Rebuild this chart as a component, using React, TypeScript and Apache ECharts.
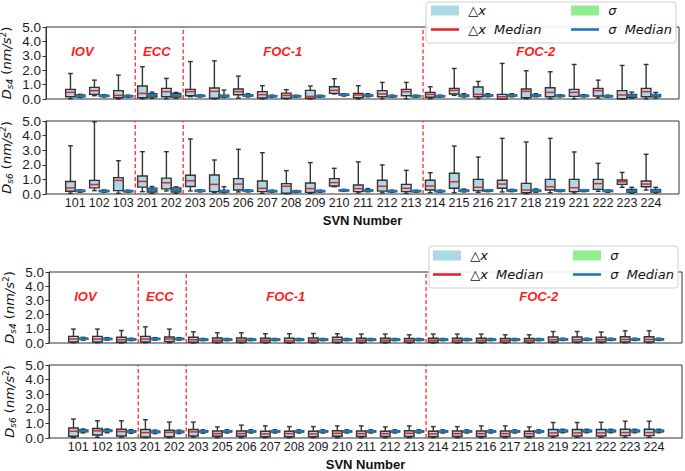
import React, { useEffect, useRef } from 'react';
import * as echarts from 'echarts';

// ---------- data ----------
const categories = ['101','102','103','201','202','203','205','206','207','208','209','210','211','212','213','214','215','216','217','218','219','221','222','223','224'];
const dividerPositions = [2.5, 4.5, 14.5];
const groupNames = ['IOV', 'ECC', 'FOC-1', 'FOC-2'];
const groupLabelX = [0.3, 3.4, 8.65, 19.2];
const groupLabelY = [3.3, 3.3, 3.3, 3.3];

// [low whisker, Q1, median, Q3, high whisker]
const topS4Dx = [
  [0.02,0.16,0.46,0.67,1.77],[0.23,0.32,0.58,0.81,1.31],[0.0,0.09,0.25,0.58,1.66],[0.02,0.09,0.39,0.9,2.24],[0.02,0.16,0.51,0.74,1.43],
  [0.16,0.23,0.51,0.67,2.6],[0.0,0.05,0.53,0.76,2.65],[0.07,0.3,0.51,0.69,1.59],[0.0,0.07,0.3,0.51,0.92],[0.0,0.05,0.25,0.41,0.65],
  [0.0,0.05,0.18,0.6,0.9],[0.35,0.39,0.6,0.85,1.41],[0.0,0.09,0.28,0.39,0.92],[0.02,0.16,0.35,0.58,1.15],[0.02,0.23,0.51,0.67,1.15],
  [0.02,0.12,0.32,0.46,0.85],[0.25,0.35,0.6,0.74,2.12],[0.02,0.16,0.32,0.83,1.22],[0.0,0.0,0.16,0.32,2.47],[0.02,0.09,0.53,0.69,1.96],
  [0.02,0.16,0.46,0.78,1.89],[0.02,0.18,0.46,0.67,2.4],[0.07,0.21,0.58,0.74,1.31],[0.0,0.02,0.28,0.58,2.33],[0.02,0.16,0.51,0.74,2.4],
];
const topS4Sigma = [
  [0.1,0.16,0.2,0.28,0.32],[0.14,0.18,0.22,0.25,0.3],[0.12,0.16,0.2,0.23,0.27],[0.05,0.14,0.28,0.37,0.48],[0.05,0.14,0.25,0.39,0.46],
  [0.14,0.18,0.22,0.25,0.28],[0.1,0.16,0.2,0.26,0.62],[0.14,0.2,0.25,0.3,0.37],[0.12,0.16,0.2,0.23,0.27],[0.12,0.16,0.2,0.23,0.26],
  [0.12,0.16,0.2,0.23,0.26],[0.2,0.26,0.3,0.33,0.37],[0.15,0.2,0.25,0.28,0.37],[0.12,0.16,0.2,0.23,0.27],[0.12,0.16,0.2,0.23,0.27],
  [0.12,0.16,0.2,0.23,0.27],[0.14,0.18,0.22,0.27,0.37],[0.15,0.2,0.25,0.29,0.37],[0.15,0.2,0.25,0.29,0.37],[0.15,0.2,0.25,0.29,0.37],
  [0.14,0.18,0.22,0.25,0.3],[0.14,0.18,0.22,0.25,0.3],[0.12,0.16,0.2,0.23,0.27],[0.05,0.12,0.23,0.32,0.48],[0.07,0.16,0.25,0.32,0.46],
];
const topS6Dx = [
  [0.05,0.19,0.42,0.86,3.3],[0.23,0.42,0.65,0.93,4.95],[0.05,0.23,0.93,1.12,2.28],[0.16,0.47,0.86,1.23,2.9],[0.21,0.35,0.77,1.09,2.9],
  [0.21,0.51,0.91,1.28,3.77],[0.09,0.16,0.66,1.3,2.33],[0.14,0.27,0.68,1.05,3.06],[0.05,0.16,0.39,0.89,2.83],[0.02,0.05,0.53,0.71,1.6],
  [0.05,0.11,0.37,0.75,2.15],[0.5,0.55,0.78,1.05,1.76],[0.07,0.16,0.37,0.62,2.2],[0.07,0.2,0.53,0.94,1.99],[0.05,0.16,0.39,0.66,1.62],
  [0.09,0.27,0.55,0.94,1.46],[0.09,0.39,0.84,1.42,3.29],[0.11,0.23,0.46,1.0,2.53],[0.14,0.39,0.68,0.94,3.81],[0.02,0.09,0.27,0.73,3.56],
  [0.09,0.27,0.5,1.0,3.81],[0.07,0.16,0.43,1.0,2.88],[0.18,0.32,0.71,1.0,2.1],[0.46,0.66,0.84,0.96,1.48],[0.27,0.5,0.68,0.89,2.72],
];
const topS6Sigma = [
  [0.12,0.17,0.22,0.25,0.28],[0.12,0.17,0.2,0.24,0.28],[0.12,0.16,0.2,0.23,0.26],[0.05,0.14,0.28,0.4,0.51],[0.05,0.14,0.28,0.42,0.49],
  [0.14,0.18,0.22,0.25,0.28],[0.08,0.14,0.2,0.25,0.5],[0.14,0.18,0.22,0.25,0.28],[0.12,0.16,0.2,0.23,0.26],[0.1,0.14,0.18,0.21,0.24],
  [0.12,0.16,0.2,0.23,0.26],[0.18,0.22,0.25,0.28,0.32],[0.15,0.2,0.25,0.29,0.37],[0.12,0.16,0.2,0.23,0.26],[0.12,0.16,0.2,0.23,0.26],
  [0.12,0.16,0.2,0.23,0.26],[0.14,0.18,0.22,0.27,0.34],[0.16,0.2,0.25,0.28,0.3],[0.16,0.2,0.25,0.28,0.32],[0.12,0.18,0.22,0.27,0.35],
  [0.16,0.2,0.25,0.28,0.3],[0.16,0.2,0.25,0.28,0.3],[0.12,0.17,0.22,0.25,0.28],[0.05,0.11,0.2,0.32,0.46],[0.07,0.14,0.23,0.32,0.46],
];
const botS4Dx = [
  [0.02,0.07,0.28,0.47,0.98],[0.02,0.07,0.28,0.47,0.98],[0.0,0.05,0.23,0.4,0.88],[0.02,0.07,0.28,0.47,1.14],[0.02,0.1,0.28,0.42,0.98],
  [0.0,0.05,0.23,0.4,0.79],[0.0,0.05,0.19,0.35,0.72],[0.0,0.05,0.19,0.35,0.72],[0.0,0.05,0.19,0.33,0.65],[0.0,0.03,0.16,0.33,0.65],
  [0.0,0.05,0.19,0.35,0.67],[0.0,0.05,0.23,0.4,0.65],[0.0,0.05,0.19,0.33,0.63],[0.0,0.05,0.19,0.33,0.63],[0.0,0.05,0.18,0.32,0.58],
  [0.0,0.05,0.19,0.33,0.63],[0.0,0.05,0.19,0.33,0.63],[0.0,0.05,0.19,0.33,0.63],[0.0,0.05,0.18,0.32,0.58],[0.0,0.05,0.18,0.32,0.58],
  [0.02,0.07,0.23,0.42,0.81],[0.02,0.07,0.23,0.42,0.81],[0.02,0.07,0.23,0.4,0.77],[0.02,0.07,0.25,0.44,0.86],[0.02,0.07,0.25,0.44,0.86],
];
const botS4Sigma = [
  [0.2,0.26,0.3,0.33,0.4],[0.2,0.25,0.29,0.32,0.38],[0.17,0.22,0.26,0.29,0.34],[0.2,0.25,0.29,0.32,0.38],[0.2,0.25,0.29,0.32,0.38],
  [0.16,0.2,0.24,0.27,0.32],[0.16,0.2,0.24,0.27,0.32],[0.16,0.2,0.24,0.27,0.32],[0.16,0.2,0.24,0.27,0.32],[0.16,0.2,0.24,0.27,0.32],
  [0.16,0.2,0.24,0.27,0.32],[0.16,0.2,0.24,0.27,0.32],[0.16,0.2,0.24,0.27,0.32],[0.16,0.2,0.24,0.27,0.32],[0.16,0.2,0.24,0.27,0.32],
  [0.16,0.2,0.24,0.27,0.32],[0.16,0.2,0.24,0.27,0.32],[0.16,0.2,0.24,0.27,0.32],[0.16,0.2,0.24,0.27,0.32],[0.16,0.2,0.24,0.27,0.32],
  [0.18,0.22,0.26,0.29,0.34],[0.18,0.22,0.26,0.29,0.34],[0.18,0.22,0.26,0.29,0.34],[0.18,0.22,0.26,0.29,0.34],[0.18,0.22,0.26,0.29,0.34],
];
const botS6Dx = [
  [0.02,0.12,0.46,0.69,1.3],[0.05,0.21,0.49,0.65,1.18],[0.05,0.14,0.44,0.6,1.18],[0.02,0.07,0.37,0.58,1.25],[0.02,0.09,0.39,0.53,1.09],
  [0.05,0.14,0.42,0.58,1.09],[0.02,0.12,0.3,0.48,0.76],[0.02,0.12,0.3,0.48,0.88],[0.02,0.09,0.28,0.46,0.83],[0.02,0.09,0.3,0.46,0.78],
  [0.02,0.09,0.28,0.46,0.78],[0.02,0.12,0.32,0.5,0.83],[0.02,0.1,0.3,0.48,0.83],[0.02,0.1,0.3,0.46,0.76],[0.02,0.1,0.32,0.5,0.83],
  [0.02,0.09,0.28,0.46,0.78],[0.02,0.1,0.3,0.48,0.78],[0.02,0.1,0.3,0.48,0.83],[0.02,0.1,0.3,0.48,0.83],[0.02,0.1,0.3,0.46,0.76],
  [0.05,0.14,0.35,0.58,1.06],[0.05,0.14,0.35,0.58,1.06],[0.05,0.14,0.35,0.58,1.08],[0.05,0.16,0.37,0.6,1.15],[0.05,0.16,0.37,0.6,1.15],
];
const botS6Sigma = [
  [0.35,0.43,0.49,0.55,0.62],[0.36,0.44,0.5,0.55,0.62],[0.32,0.4,0.45,0.5,0.57],[0.3,0.37,0.42,0.47,0.54],[0.3,0.37,0.42,0.47,0.54],
  [0.33,0.4,0.45,0.5,0.56],[0.34,0.41,0.46,0.5,0.56],[0.34,0.41,0.46,0.5,0.56],[0.34,0.41,0.46,0.5,0.56],[0.34,0.41,0.46,0.5,0.56],
  [0.34,0.41,0.46,0.5,0.56],[0.34,0.41,0.46,0.5,0.56],[0.34,0.41,0.46,0.5,0.56],[0.34,0.41,0.46,0.5,0.56],[0.34,0.41,0.46,0.5,0.56],
  [0.34,0.41,0.46,0.5,0.56],[0.34,0.41,0.46,0.5,0.56],[0.34,0.41,0.46,0.5,0.56],[0.34,0.41,0.46,0.5,0.56],[0.34,0.41,0.46,0.5,0.56],
  [0.36,0.43,0.48,0.53,0.6],[0.36,0.43,0.48,0.53,0.6],[0.36,0.43,0.48,0.53,0.6],[0.36,0.43,0.48,0.53,0.6],[0.36,0.43,0.48,0.53,0.6],
];

const DX = '△x';
const SG = 'σ';
const DXM = '△x Median';
const SGM = 'σ Median';

// ---------- styling ----------
const C_DX = '#ADD8E6';
const C_SG = '#90EE90';
const C_DXM = '#e0262a';
const C_SGM = '#1f77b4';
const EDGE = '#333333';
const X_MIN = -1.22;
const X_MAX = 25.17;
const BOX_W = 0.4;
const SANS = '"Liberation Sans", Arial, sans-serif';
const DV = '"DejaVu Sans", sans-serif';

function boxRenderer(offset: number, fill: string) {
  return (params: any, api: any) => {
    const x = api.value(0) + offset;
    const pLow = api.coord([x, api.value(1)]);
    const pQ1 = api.coord([x, api.value(2)]);
    const pQ3 = api.coord([x, api.value(4)]);
    const pHigh = api.coord([x, api.value(5)]);
    const w = api.size([BOX_W, 0])[0];
    const cx = pLow[0];
    const ls = { stroke: EDGE, lineWidth: 1.4 };
    return {
      type: 'group',
      children: [
        { type: 'line', shape: { x1: cx, y1: pLow[1], x2: cx, y2: pQ1[1] }, style: ls },
        { type: 'line', shape: { x1: cx, y1: pQ3[1], x2: cx, y2: pHigh[1] }, style: ls },
        { type: 'line', shape: { x1: cx - w / 4, y1: pLow[1], x2: cx + w / 4, y2: pLow[1] }, style: ls },
        { type: 'line', shape: { x1: cx - w / 4, y1: pHigh[1], x2: cx + w / 4, y2: pHigh[1] }, style: ls },
        { type: 'rect', shape: { x: cx - w / 2, y: pQ3[1], width: w, height: Math.max(pQ1[1] - pQ3[1], 0.5) }, style: { fill, stroke: EDGE, lineWidth: 1.4 } },
      ],
    };
  };
}

function medianRenderer(offset: number, color: string, lw: number) {
  return (params: any, api: any) => {
    const x = api.value(0) + offset;
    const p = api.coord([x, api.value(1)]);
    const w = api.size([BOX_W, 0])[0];
    return { type: 'line', shape: { x1: p[0] - w / 2, y1: p[1], x2: p[0] + w / 2, y2: p[1] }, style: { stroke: color, lineWidth: lw } };
  };
}

const panels = [
  { left: 46, top: 27, width: 633, height: 72, dx: topS4Dx, sg: topS4Sigma, sub: 's4', labels: false, groups: true },
  { left: 46, top: 121, width: 633, height: 73, dx: topS6Dx, sg: topS6Sigma, sub: 's6', labels: true, groups: false },
  { left: 49, top: 272, width: 633, height: 71, dx: botS4Dx, sg: botS4Sigma, sub: 's4', labels: false, groups: true },
  { left: 49, top: 365, width: 633, height: 73, dx: botS6Dx, sg: botS6Sigma, sub: 's6', labels: true, groups: false },
];

const legendFmt: Record<string, string> = {
  [DX]: '{n| △}{i|x}',
  [SG]: '{n| }{i|σ}',
  [DXM]: '{n| △}{i|x  Median}',
  [SGM]: '{n| }{i|σ  Median}',
};
const legendIcons: Record<string, any> = {
  [DX]: { icon: 'rect', itemStyle: { color: C_DX } },
  [SG]: { icon: 'rect', itemStyle: { color: C_SG } },
  [DXM]: { icon: 'path://M0,0H28V2.6H0Z', itemStyle: { color: C_DXM } },
  [SGM]: { icon: 'path://M0,0H28V2.6H0Z', itemStyle: { color: C_SGM } },
};

function makeLegend(name: string, left: number, cy: number) {
  return {
    data: [{ name, ...legendIcons[name] }],
    left,
    top: cy - 8,
    padding: 0,
    itemWidth: 28,
    itemHeight: 10,
    selectedMode: false,
    z: 20,
    formatter: (n: string) => legendFmt[n],
    textStyle: {
      rich: {
        n: { fontFamily: DV, fontSize: 13, lineHeight: 16, color: '#111' },
        i: { fontFamily: DV, fontStyle: 'italic', fontSize: 13, lineHeight: 16, color: '#111' },
      },
    },
  };
}

function buildOption() {
  const grid: any[] = [];
  const xAxis: any[] = [];
  const yAxis: any[] = [];
  const series: any[] = [];

  panels.forEach((p, k) => {
    grid.push({ left: p.left, top: p.top, width: p.width, height: p.height, show: true, borderColor: EDGE, borderWidth: 1, backgroundColor: 'transparent', outerBoundsMode: 'none', containLabel: false });
    xAxis.push({
      gridIndex: k, type: 'value', min: X_MIN, max: X_MAX, scale: true,
      axisLine: { show: false, onZero: false }, axisTick: { show: false }, splitLine: { show: false },
      axisLabel: {
        show: p.labels, customValues: categories.map((_, i) => i),
        formatter: (v: number) => categories[Math.round(v)] ?? '',
        fontFamily: SANS, fontSize: 12.5, color: '#1a1a1a', margin: 2,
      },
      name: p.labels ? 'SVN Number' : '', nameLocation: 'middle', nameGap: 20, nameMoveOverlap: false,
      nameTextStyle: { fontFamily: SANS, fontSize: 13, fontWeight: 'bold', color: '#111' },
    });
    yAxis.push({
      gridIndex: k, type: 'value', min: 0, max: 5, interval: 1,
      axisLine: { show: true, onZero: false, lineStyle: { color: EDGE } },
      axisTick: { show: true, length: 3.5, lineStyle: { color: EDGE } },
      splitLine: { show: false },
      axisLabel: { formatter: (v: number) => v.toFixed(1), fontFamily: SANS, fontSize: 13.5, lineHeight: 13, color: '#1a1a1a', margin: 5 },
      name: `{i|D}{s|${p.sub}}{n| (}{i|nm/s}{p|2}{n|)}`,
      nameLocation: 'middle', nameRotate: 90, nameGap: 32, nameMoveOverlap: false,
      nameTextStyle: {
        rich: {
          i: { fontFamily: DV, fontStyle: 'italic', fontSize: 13, lineHeight: 16, color: '#111' },
          n: { fontFamily: DV, fontSize: 13, lineHeight: 16, color: '#111' },
          s: { fontFamily: DV, fontStyle: 'italic', fontSize: 9, lineHeight: 9, verticalAlign: 'bottom', color: '#111' },
          p: { fontFamily: DV, fontSize: 9, lineHeight: 9, verticalAlign: 'top', color: '#111' },
        },
      },
    });

    series.push({
      type: 'custom', name: 'divider', xAxisIndex: k, yAxisIndex: k, z: 1,
      data: dividerPositions.map((v) => [v, 0]),
      renderItem: (params: any, api: any) => {
        const x = api.value(0);
        const a = api.coord([x, 0]);
        const b = api.coord([x, 5]);
        return { type: 'line', shape: { x1: a[0], y1: a[1], x2: b[0], y2: b[1] }, style: { stroke: '#ff2a2a', lineWidth: 1.3, lineDash: [4, 2.5] } };
      },
    });
    series.push({
      type: 'custom', name: DX, xAxisIndex: k, yAxisIndex: k, z: 3, itemStyle: { color: C_DX },
      data: p.dx.map((d, i) => [i, ...d]),
      renderItem: boxRenderer(-0.2, C_DX),
    });
    series.push({
      type: 'custom', name: SG, xAxisIndex: k, yAxisIndex: k, z: 3, itemStyle: { color: C_SG },
      data: p.sg.map((d, i) => [i, ...d]),
      renderItem: boxRenderer(0.2, C_SG),
    });
    series.push({
      type: 'custom', name: DXM, xAxisIndex: k, yAxisIndex: k, z: 4, itemStyle: { color: C_DXM },
      data: p.dx.map((d, i) => [i, d[2]]),
      renderItem: medianRenderer(-0.2, C_DXM, 1.5),
    });
    series.push({
      type: 'custom', name: SGM, xAxisIndex: k, yAxisIndex: k, z: 4, itemStyle: { color: C_SGM },
      data: p.sg.map((d, i) => [i, d[2]]),
      renderItem: medianRenderer(0.2, C_SGM, 2.6),
    });
    if (p.groups) {
      series.push({
        type: 'custom', name: 'groups', xAxisIndex: k, yAxisIndex: k, z: 5,
        data: groupLabelX.map((x, i) => [x, groupLabelY[i]]),
        renderItem: (params: any, api: any) => {
          const c = api.coord([api.value(0), api.value(1)]);
          return {
            type: 'text', x: c[0], y: c[1],
            style: { text: groupNames[params.dataIndex], fill: '#ff1a1a', font: `italic bold 13px ${SANS}`, align: 'center', verticalAlign: 'middle' },
          };
        },
      });
    }
  });

  const legend = [
    makeLegend(DX, 431, 12), makeLegend(SG, 571, 12), makeLegend(DXM, 431, 31), makeLegend(SGM, 571, 31),
    makeLegend(DX, 433, 257), makeLegend(SG, 573, 257), makeLegend(DXM, 433, 276), makeLegend(SGM, 573, 276),
  ];

  const graphic = [
    { type: 'rect', z: 10, shape: { x: 426, y: 2, width: 250, height: 41, r: 3 }, style: { fill: 'rgba(255,255,255,0.9)', stroke: '#cfcfcf', lineWidth: 1 } },
    { type: 'rect', z: 10, shape: { x: 429, y: 246, width: 249, height: 42, r: 3 }, style: { fill: 'rgba(255,255,255,0.9)', stroke: '#cfcfcf', lineWidth: 1 } },
  ];

  return { animation: false, backgroundColor: '#ffffff', grid, xAxis, yAxis, series, legend, graphic };
}

export default function App() {
  const ref = useRef<HTMLDivElement>(null);
  useEffect(() => {
    document.body.style.margin = '0';
    const chart = echarts.init(ref.current!, null, { renderer: 'svg' });
    chart.setOption(buildOption() as any);
    return () => chart.dispose();
  }, []);
  return <div ref={ref} style={{ width: 685, height: 471 }} />;
}
